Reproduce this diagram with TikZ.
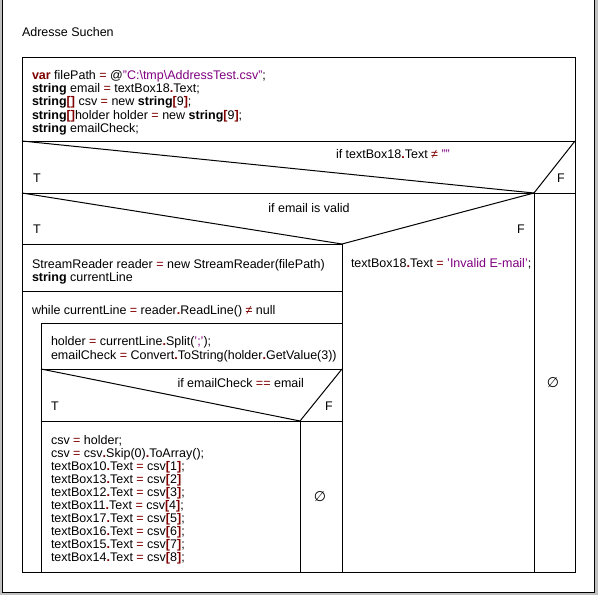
\documentclass[tikz,border=0pt]{standalone}
\usepackage{fontspec}
\setmainfont{Liberation Sans}
\newfontfamily\symf{DejaVu Sans}
\definecolor{kwred}{RGB}{128,0,0}
\definecolor{strpur}{RGB}{128,0,128}
\definecolor{winbg}{RGB}{192,192,192}
\newcommand{\kw}[1]{\textcolor{kwred}{\textbf{#1}}}
\newcommand{\bk}[1]{\textbf{#1}}
\newcommand{\op}[1]{\textcolor{kwred}{#1}}
\newcommand{\dt}{\textcolor{kwred}{\textbf{.}}}
\newcommand{\lb}{\textcolor{kwred}{\textbf{[}}}
\newcommand{\rb}{\textcolor{kwred}{\textbf{]}}}
\newcommand{\strl}[1]{\textcolor{strpur}{#1}}
\newcommand{\nq}{\textcolor{kwred}{≠}}
\newcommand{\emptysym}{{\symf\fontsize{14}{16}\selectfont ∅}}
\begin{document}
\begin{tikzpicture}[x=1pt,y=-1pt,
  every node/.style={inner sep=0pt,outer sep=0pt,font=\fontsize{12.5}{13}\selectfont},
  txt/.style={anchor=base west},
  ln/.style={draw=black,line width=1pt},
]
\useasboundingbox (0,0) rectangle (598,595);
\fill[winbg] (0,0) rectangle (598,595);
\fill[white] (2,-5) rectangle (594,592);
\draw[line width=1pt] (2,-5) rectangle (594,592);

% coordinates
\coordinate (mTL) at (22,57);
\coordinate (mBR) at (575,572);
\coordinate (dL) at (22,141);  \coordinate (dR) at (575,141);
\coordinate (i1L) at (22,193); \coordinate (i1R) at (575,193);
\coordinate (i1P) at (534,193); \coordinate (i1B) at (534,572);
\coordinate (i2L) at (22,244); \coordinate (i2P) at (342,244);
\coordinate (i2B) at (342,572);
\coordinate (srL) at (22,291); \coordinate (srR) at (342,291);
\coordinate (whL) at (41,323); \coordinate (whR) at (342,323);
\coordinate (whB) at (41,572);
\coordinate (hoL) at (41,369); \coordinate (hoR) at (342,369);
\coordinate (i3L) at (41,421); \coordinate (i3R) at (342,421);
\coordinate (i3P) at (300,421); \coordinate (i3B) at (300,572);

% structure
\draw[ln] (mTL) rectangle (mBR);
\draw[ln] (dL) -- (dR);
\draw[ln] (i1L) -- (i1R);
\draw[ln] (dL) -- (i1P) -- (dR);
\draw[ln] (i1P) -- (i1B);
\draw[ln] (i2L) -- (i2P);
\draw[ln] (i1L) -- (i2P) -- (i1P);
\draw[ln] (i2P) -- (i2B);
\draw[ln] (srL) -- (srR);
\draw[ln] (whL) -- (whR);
\draw[ln] (whL) -- (whB);
\draw[ln] (hoL) -- (hoR);
\draw[ln] (i3L) -- (i3R);
\draw[ln] (hoL) -- (i3P) -- (hoR);
\draw[ln] (i3P) -- (i3B);

% title
\node[txt] (title) at (22,36.5) {Adresse Suchen};

% declarations
\node[txt] (d1) at (32,79.5) {\kw{var} filePath \op{=} @\strl{"C:\textbackslash tmp\textbackslash AddressTest.csv"};};
\node[txt] (d2) at (32,92.7) {\bk{string} email \op{=} textBox18\dt Text;};
\node[txt] (d3) at (32,105.9) {\bk{string}\lb\rb{} csv \op{=} new \bk{string}\lb 9\rb;};
\node[txt] (d4) at (32,119.1) {\bk{string}\lb\rb holder holder \op{=} new \bk{string}\lb 9\rb;};
\node[txt] (d5) at (32,132.3) {\bk{string} emailCheck;};

% if 1
\node[txt] (if1) at (336,158.5) {if textBox18\dt Text \nq{} \strl{""}};
\node[txt] (t1) at (33,182.5) {T};
\node[txt] (f1) at (557,182.5) {F};

% if 2
\node[anchor=base] (if2) at (309,212.5) {if email is valid};
\node[txt] (t2) at (33,233.5) {T};
\node[txt] (f2) at (517,233.5) {F};

% stream reader
\node[txt] (s1) at (32,268.5) {StreamReader reader \op{=} new StreamReader(filePath)};
\node[txt] (s2) at (32,281.5) {\bk{string} currentLine};

% while
\node[txt] (wh) at (32,314.5) {while currentLine \op{=} reader\dt ReadLine() \nq{} null};

% holder
\node[txt] (h1) at (51,345) {holder \op{=} currentLine\dt Split(\strl{';'});};
\node[txt] (h2) at (51,359) {emailCheck \op{=} Convert\dt ToString(holder\dt GetValue(3))};

% if 3
\node[txt] (if3) at (177.5,387.5) {if emailCheck \op{==} email};
\node[txt] (t3) at (51,410.5) {T};
\node[txt] (f3) at (325,410.5) {F};

% csv body
\node[txt] (c1) at (51,444.5) {csv \op{=} holder;};
\node[txt] (c2) at (51,457.5) {csv \op{=} csv\dt Skip(0)\dt ToArray();};
\node[txt] (c3) at (51,470.5) {textBox10\dt Text \op{=} csv\lb 1\rb;};
\node[txt] (c4) at (51,483.5) {textBox13\dt Text \op{=} csv\lb 2\rb};
\node[txt] (c5) at (51,496.5) {textBox12\dt Text \op{=} csv\lb 3\rb;};
\node[txt] (c6) at (51,509.5) {textBox11\dt Text \op{=} csv\lb 4\rb;};
\node[txt] (c7) at (51,522.5) {textBox17\dt Text \op{=} csv\lb 5\rb;};
\node[txt] (c8) at (51,535.5) {textBox16\dt Text \op{=} csv\lb 6\rb;};
\node[txt] (c9) at (51,548.5) {textBox15\dt Text \op{=} csv\lb 7\rb;};
\node[txt] (c10) at (51,561.5) {textBox14\dt Text \op{=} csv\lb 8\rb;};

% else branches
\node (e3) at (320,497) {\emptysym};
\node[txt] (inv) at (351,267.5) {textBox18\dt Text \op{=} \strl{'Invalid E-mail'};};
\node (e1) at (553,383) {\emptysym};
\end{tikzpicture}
\end{document}
